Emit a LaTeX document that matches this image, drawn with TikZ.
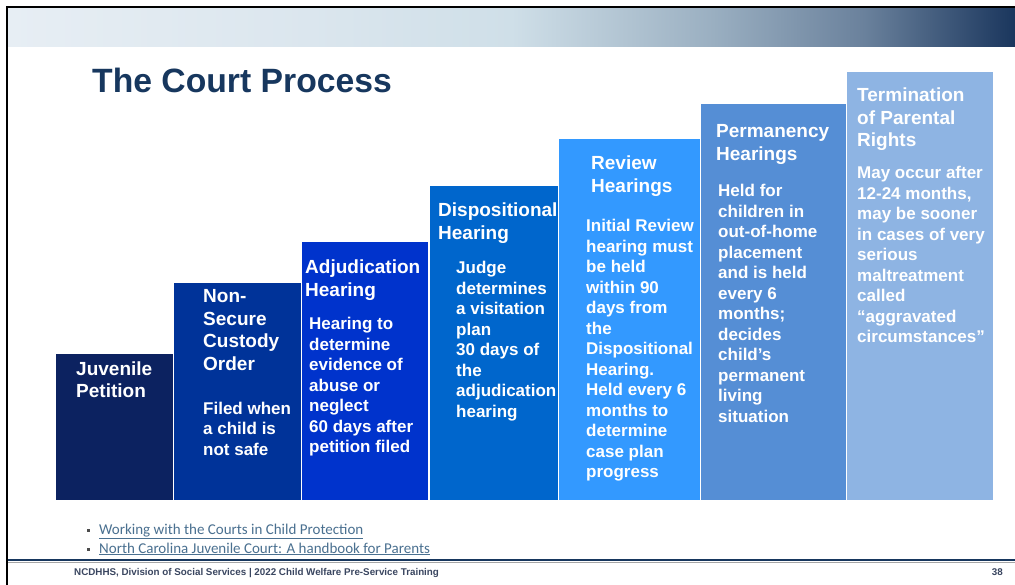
\documentclass[tikz,border=0pt]{standalone}
\usepackage{fontspec}
\setmainfont{Liberation Sans}
\newfontfamily\linkfont{Carlito}
\usepackage{tikz}

\definecolor{barA}{HTML}{0C2260}
\definecolor{barB}{HTML}{003399}
\definecolor{barC}{HTML}{0033CC}
\definecolor{barD}{HTML}{0066CC}
\definecolor{barE}{HTML}{3399FF}
\definecolor{barF}{HTML}{558ED5}
\definecolor{barG}{HTML}{8EB4E3}
\definecolor{titleblue}{HTML}{17375E}
\definecolor{linkblue}{HTML}{4A7090}
\definecolor{footgray}{HTML}{3A4660}
\definecolor{bandA}{HTML}{E7EEF4}
\definecolor{bandB}{HTML}{DBE6EE}
\definecolor{bandC}{HTML}{CFDFE8}
\definecolor{bandD}{HTML}{9AAFC1}
\definecolor{bandE}{HTML}{6A819C}
\definecolor{bandF}{HTML}{1A365D}

\pgfdeclarehorizontalshading{bandfade}{100bp}{color(0bp)=(bandA); color(25bp)=(bandA);
  color(40bp)=(bandB); color(50bp)=(bandC); color(60bp)=(bandD); color(67.5bp)=(bandE);
  color(75bp)=(bandF); color(100bp)=(bandF)}

% rows of a text block, first row on the baseline
\newcommand{\rowsof}[1]{\begin{tabular}[t]{@{}l@{}}#1\end{tabular}}

\tikzset{
  stepbar/.style={draw=white, line width=1pt, anchor=south west, inner sep=0pt,
    minimum width=#1},
  head/.style={font=\bfseries\fontsize{19}{22.4}\selectfont, text=white,
    anchor=base west, inner sep=0pt},
  body/.style={font=\bfseries\fontsize{17}{20.5}\selectfont, text=white,
    anchor=base west, inner sep=0pt},
  linktext/.style={font=\linkfont\fontsize{15}{18}\selectfont, text=linkblue,
    anchor=base west, inner sep=0pt},
  dot/.style={fill=black!70, minimum size=3pt, inner sep=0pt},
}

\begin{document}
\begin{tikzpicture}[x=1pt, y=-1pt]
  \useasboundingbox (0,0) rectangle (1015,585);
  \fill[white] (0,0) rectangle (1015,585);

  % header band and frame
  \shade[shading=bandfade] (8,8) rectangle (1015,47);
  \draw[line width=2pt] (7,585) -- (7,7) -- (1015,7);

  \node[font=\bfseries\fontsize{33.7}{36}\selectfont, text=titleblue, anchor=base west,
    inner sep=0pt] (title) at (92,93) {The Court Process};

  % the steps
  \node[stepbar=118pt, fill=barA, minimum height=147pt] (jp) at (55,501) {};
  \node[stepbar=128pt, fill=barB, minimum height=218pt] (nsco) at (173,501) {};
  \node[stepbar=127pt, fill=barC, minimum height=259pt] (adj) at (301,501) {};
  \node[stepbar=129pt, fill=barD, minimum height=315pt] (disp) at (429,501) {};
  \node[stepbar=142pt, fill=barE, minimum height=362pt] (rev) at (558,501) {};
  \node[stepbar=146pt, fill=barF, minimum height=397pt] (perm) at (700,501) {};
  \node[stepbar=147pt, fill=barG, minimum height=429pt] (tpr) at (846,501) {};

  \node[head] (jp-head) at (76,375) {\rowsof{Juvenile\\Petition}};

  \node[head] (nsco-head) at (203,303) {\rowsof{Non-\\Secure\\Custody\\Order}};
  \node[body] (nsco-body) at (203,414) {\rowsof{Filed when\\a child is\\not safe}};

  \node[head] (adj-head) at (305,274) {\rowsof{Adjudication\\Hearing}};
  \node[body] (adj-body) at (309,330) {\rowsof{Hearing to\\determine\\evidence of\\abuse or\\neglect\\60 days after\\petition filed}};

  \node[head] (disp-head) at (438,217) {\rowsof{Dispositional\\Hearing}};
  \node[body] (disp-body) at (456,274) {\rowsof{Judge\\determines\\a visitation\\plan\\30 days of\\the\\adjudication\\hearing}};

  \node[head] (rev-head) at (591,170) {\rowsof{Review\\Hearings}};
  \node[body] (rev-body) at (586,232) {\rowsof{Initial Review\\hearing must\\be held\\within 90\\days from\\the\\Dispositional\\Hearing.\\Held every 6\\months to\\determine\\case plan\\progress}};

  \node[head] (perm-head) at (716,138) {\rowsof{Permanency\\Hearings}};
  \node[body] (perm-body) at (718,197) {\rowsof{Held for\\children in\\out-of-home\\placement\\and is held\\every 6\\months;\\decides\\child’s\\permanent\\living\\situation}};

  \node[head] (tpr-head) at (857,102) {\rowsof{Termination\\of Parental\\Rights}};
  \node[body] (tpr-body) at (857,179) {\rowsof{May occur after\\12-24 months,\\may be sooner\\in cases of very\\serious\\maltreatment\\called\\“aggravated\\circumstances”}};

  % resources
  \node[dot] (dot1) at (88,530) {};
  \node[linktext] (link1) at (99,534) {\underline{Working with the Courts in Child Protection}};
  \node[dot] (dot2) at (88,549) {};
  \node[linktext] (link2) at (99,553) {\underline{North Carolina Juvenile Court: A handbook for Parents}};

  % footer
  \draw[titleblue, line width=1.5pt] (8,560) -- (1015,560);
  \draw[black!35, line width=0.6pt] (8,562.2) -- (1015,562.2);
  \node[font=\bfseries\fontsize{9.8}{11}\selectfont, text=footgray, anchor=base west,
    inner sep=0pt] (foot) at (74,575) {NCDHHS, Division of Social Services | 2022 Child Welfare Pre-Service Training};
  \node[font=\bfseries\fontsize{9.8}{11}\selectfont, text=footgray, anchor=base east,
    inner sep=0pt] (page) at (1003,575) {38};
\end{tikzpicture}
\end{document}
